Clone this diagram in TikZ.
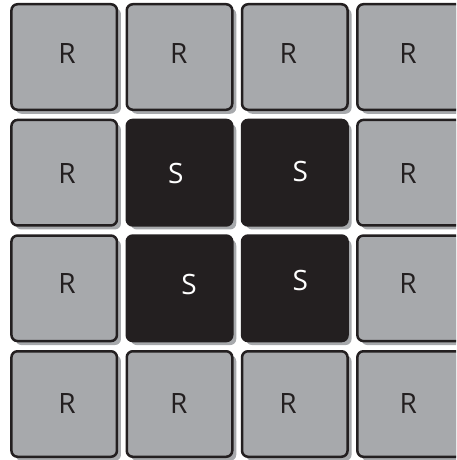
\documentclass[tikz,border=0pt]{standalone}
\usepackage{fontspec}
\setmainfont{Open Sans}
\usetikzlibrary{shadows}
\definecolor{ink}{HTML}{231F20}
\definecolor{boxgray}{HTML}{A7A9AC}
\definecolor{shadowgray}{HTML}{A7A9AC}
\tikzset{
  cell/.style={rectangle, rounded corners=6pt, line width=2.5pt,
    minimum width=105.5pt, minimum height=105.5pt, inner sep=0pt,
    drop shadow={shadow xshift=4pt, shadow yshift=-4pt, fill=shadowgray, opacity=1}},
  rcell/.style={cell, draw=ink, fill=boxgray},
  scell/.style={cell, draw=ink, fill=ink},
  rlab/.style={text=ink, font=\fontsize{28}{30}\selectfont, inner sep=0pt},
  slab/.style={text=white, font=\fontsize{28}{30}\selectfont, inner sep=0pt}
}
\begin{document}
\begin{tikzpicture}[x=1pt,y=-1pt]
\useasboundingbox (0,0) rectangle (456,460);
\clip (0,0) rectangle (456,460);
% row 1
\node[rcell] (b11) at (64.2,57) {};
\node[rcell] (b12) at (179.5,57) {};
\node[rcell] (b13) at (294.8,57) {};
\node[rcell] (b14) at (410.1,57) {};
% row 2
\node[rcell] (b21) at (64.2,172.7) {};
\node[scell] (b22) at (179.5,172.7) {};
\node[scell] (b23) at (294.8,172.7) {};
\node[rcell] (b24) at (410.1,172.7) {};
% row 3
\node[rcell] (b31) at (64.2,288.3) {};
\node[scell] (b32) at (179.5,288.3) {};
\node[scell] (b33) at (294.8,288.3) {};
\node[rcell] (b34) at (410.1,288.3) {};
% row 4
\node[rcell] (b41) at (64.2,404) {};
\node[rcell] (b42) at (179.5,404) {};
\node[rcell] (b43) at (294.8,404) {};
\node[rcell] (b44) at (410.1,404) {};
% labels
\node[rlab] (l11) at (67,53.3) {R};
\node[rlab] (l12) at (178.8,53.3) {R};
\node[rlab] (l13) at (288.3,53.3) {R};
\node[rlab] (l14) at (408,53.3) {R};
\node[rlab] (l21) at (67,173.3) {R};
\node[slab] (l22) at (175.7,173.3) {S};
\node[slab] (l23) at (300.3,171.7) {S};
\node[rlab] (l24) at (408,173.3) {R};
\node[rlab] (l31) at (67,283.3) {R};
\node[slab] (l32) at (189,284.7) {S};
\node[slab] (l33) at (300.3,280) {S};
\node[rlab] (l34) at (408,284) {R};
\node[rlab] (l41) at (67,403.3) {R};
\node[rlab] (l42) at (178.8,403.3) {R};
\node[rlab] (l43) at (288,403.3) {R};
\node[rlab] (l44) at (408.3,403.3) {R};
\end{tikzpicture}
\end{document}
